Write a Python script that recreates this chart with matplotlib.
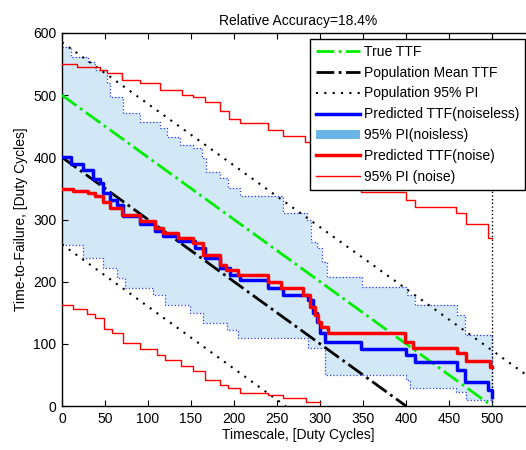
'''Relative accuracy of predicted time-to-failure'''

import numpy as np
import matplotlib
matplotlib.use('Agg')
import matplotlib.pyplot as plt
from matplotlib.patches import Patch

plt.rcParams['font.family'] = ['Liberation Sans', 'DejaVu Sans']
plt.rcParams['font.size'] = 10

# Data
true_x = [0, 500]
true_y = [500, 0]

pop_mean_x = [0, 400]
pop_mean_y = [400, 0]

pop_pi_up_x = [0, 550]
pop_pi_up_y = [585, 40]
pop_pi_lo_x = [0, 260]
pop_pi_lo_y = [260, 0]

# predicted TTF, noiseless (step changes)
pred_x = [0, 11, 24, 36, 44, 48, 56, 64, 71, 91, 108, 117, 135, 155, 166, 184,
          195, 207, 240, 257, 286, 292, 296, 300, 306, 348, 400, 410, 459, 469,
          495, 500]
pred_y = [400, 390, 380, 365, 358, 342, 331, 323, 305, 293, 282, 273, 265, 254,
          238, 222, 211, 203, 190, 178, 170, 150, 135, 118, 103, 92, 82, 71, 58,
          39, 26, 14]

# 95% PI noiseless
pi_up_x = [0, 11, 30, 38, 52, 56, 71, 91, 114, 122, 137, 152, 163, 168, 184,
           193, 207, 257, 285, 290, 296, 302, 308, 349, 401, 410, 459, 469, 495,
           500]
pi_up_y = [577, 562, 554, 541, 519, 497, 471, 457, 447, 433, 420, 415, 399, 376,
           366, 350, 337, 310, 299, 264, 254, 232, 208, 191, 178, 162, 146, 114,
           114, 0]
pi_lo_x = [0, 24, 48, 64, 73, 106, 120, 149, 164, 192, 205, 286, 306, 400, 405,
           458, 470, 500]
pi_lo_y = [259, 238, 222, 206, 190, 178, 162, 149, 133, 122, 109, 93, 50, 42,
           29, 23, 10, 5]

# predicted TTF with noise
noise_x = [0, 13, 30, 38, 48, 56, 70, 91, 108, 117, 135, 152, 164, 184, 191,
           205, 240, 255, 280, 288, 294, 298, 301, 309, 399, 408, 459, 470, 498,
           500]
noise_y = [349, 346, 342, 337, 328, 318, 307, 297, 286, 278, 270, 262, 243, 227,
           219, 211, 200, 190, 178, 159, 146, 135, 127, 117, 103, 93, 85, 72, 63,
           63]

# 95% PI with noise
npi_up_x = [0, 17, 44, 52, 70, 91, 114, 139, 152, 166, 184, 194, 207, 240, 257,
            283, 290, 320, 348, 400, 410, 458, 470, 495, 500]
npi_up_y = [550, 545, 540, 536, 524, 519, 509, 501, 497, 489, 475, 462, 455, 444,
            434, 425, 415, 380, 344, 331, 320, 310, 292, 270, 270]
npi_lo_x = [0, 13, 29, 38, 49, 58, 71, 91, 110, 120, 138, 152, 166, 184, 193,
            207, 240, 257, 284, 300]
npi_lo_y = [162, 156, 148, 141, 124, 117, 101, 92, 82, 74, 64, 56, 42, 34, 29,
            21, 18, 13, 7, 7]

labels = ['True TTF', 'Population Mean TTF', 'Population 95% PI',
          'Predicted TTF(noiseless)', '95% PI(noisless)', 'Predicted TTF(noise)',
          '95% PI (noise)']


def step_verts(xs, ys):
    '''Corner points of a steps-post line'''
    vx, vy = [xs[0]], [ys[0]]
    for i in range(1, len(xs)):
        vx += [xs[i], xs[i]]
        vy += [ys[i - 1], ys[i]]
    return vx, vy


fig = plt.figure(figsize=(5.26, 4.5), dpi=100)
# axes runs past the right edge of the picture (xlim up to 550)
ax = fig.add_axes([62 / 526, 44 / 450, 473 / 526, 373 / 450])

# shaded PI (noiseless)
ux, uy = step_verts(pi_up_x, pi_up_y)
lx, ly = step_verts(pi_lo_x, pi_lo_y)
ax.fill(ux + lx[::-1], uy + ly[::-1], color='#6ab4e6', alpha=0.3, lw=0, zorder=1)
ax.plot(pi_up_x, pi_up_y, drawstyle='steps-post', ls=':', color='#2a3cff', lw=0.9, zorder=2)
ax.plot(pi_lo_x, pi_lo_y, drawstyle='steps-post', ls=':', color='#2a3cff', lw=0.9, zorder=2)

ax.plot(true_x, true_y, color='#00ee00', ls='-.', lw=2, zorder=4)
ax.plot(pop_mean_x, pop_mean_y, color='black', ls='-.', lw=2, zorder=4)
ax.plot(pop_pi_up_x, pop_pi_up_y, color='black', ls=(0, (1, 3)), lw=1.5, zorder=3)
ax.plot(pop_pi_lo_x, pop_pi_lo_y, color='black', ls=(0, (1, 3)), lw=1.5, zorder=3)
ax.axvline(500, color='black', ls=':', lw=1, zorder=3)

ax.plot(pred_x, pred_y, drawstyle='steps-post', color='blue', lw=2.5, zorder=5)
ax.plot(noise_x, noise_y, drawstyle='steps-post', color='red', lw=2.5, zorder=6)
ax.plot(npi_up_x, npi_up_y, drawstyle='steps-post', color='red', lw=1, zorder=5)
ax.plot(npi_lo_x, npi_lo_y, drawstyle='steps-post', color='red', lw=1, zorder=5)

ax.set_xlim(0, 550)
ax.set_ylim(0, 600)
ax.set_xticks(np.arange(0, 501, 50))
ax.set_yticks(np.arange(0, 601, 100))
ax.tick_params(direction='in', top=True, right=True, length=4, pad=4)
for s in ax.spines.values():
    s.set_linewidth(1)
ax.set_title('Relative Accuracy=18.4%', fontsize=10, pad=6)
ax.set_xlabel('Timescale, [Duty Cycles]', labelpad=2)
ax.set_ylabel('Time-to-Failure, [Duty Cycles]', labelpad=4)

# legend handles (solid patch for the shaded band)
handles = [
    plt.Line2D([], [], color='#00ee00', ls='-.', lw=2),
    plt.Line2D([], [], color='black', ls='-.', lw=2),
    plt.Line2D([], [], color='black', ls=(0, (1, 3)), lw=1.5),
    plt.Line2D([], [], color='blue', lw=2.5),
    Patch(facecolor='#6ab4e6', edgecolor='none'),
    plt.Line2D([], [], color='red', lw=2.5),
    plt.Line2D([], [], color='red', lw=1),
]
leg = ax.legend(handles, labels, loc='upper left',
                bbox_to_anchor=(310 / 526, 1 - 39 / 450),
                bbox_transform=fig.transFigure, borderaxespad=0,
                fancybox=False, framealpha=1, edgecolor='black',
                handlelength=3.2, handletextpad=0.3, labelspacing=0.5,
                borderpad=0.4, fontsize=10)
leg.get_frame().set_linewidth(1)
leg.set_zorder(10)

fig.savefig('out.png', dpi=100)
